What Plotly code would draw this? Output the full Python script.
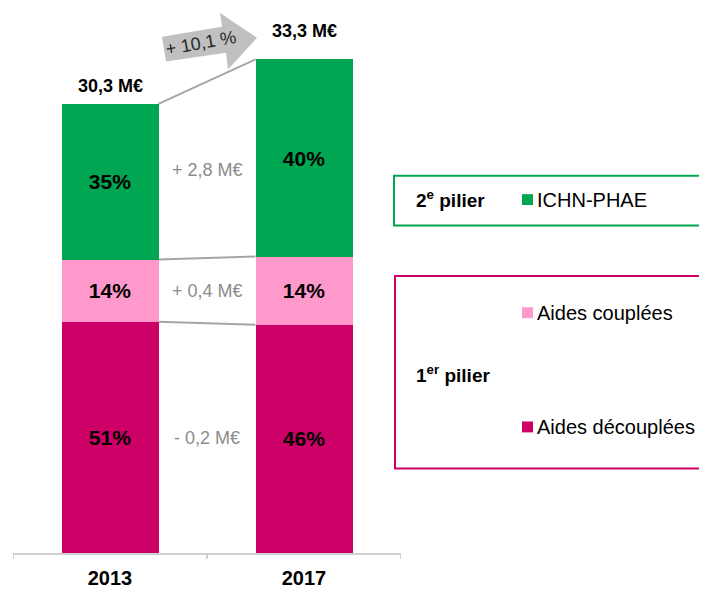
import plotly.graph_objects as go

years = ["2013", "2017"]
decouplees = [15.6, 15.4]
couplees = [4.2, 4.6]
ichn = [10.5, 13.3]
pct_decouplees = ["51%", "46%"]
pct_couplees = ["14%", "14%"]
pct_ichn = ["35%", "40%"]
totals_txt = ["30,3 M€", "33,3 M€"]
diff_txt = ["- 0,2 M€", "+ 0,4 M€", "+ 2,8 M€"]
growth_txt = "+ 10,1 %"
legend_names = ["ICHN-PHAE", "Aides couplées", "Aides découplées"]

C_GREEN = "#00A651"
C_PINK = "#FF99CC"
C_MAG = "#CC0066"
FONT = "Liberation Sans, Arial, sans-serif"

OFF = 8  # page body margin
W, H = 707 - OFF, 589 - OFF
ML, MR, MT, MB = 13 - OFF, 306, 0, 32
PW, PH = W - ML - MR, H - MT - MB
YMAX = PH / 14.93


def px(x):
    return (x - OFF - ML) / PW


def py(y):
    return (H - MB - (y - OFF)) / PH


fig = go.Figure()
for vals, txt, col, name in [
    (decouplees, pct_decouplees, C_MAG, legend_names[2]),
    (couplees, pct_couplees, C_PINK, legend_names[1]),
    (ichn, pct_ichn, C_GREEN, legend_names[0]),
]:
    fig.add_trace(go.Bar(
        x=[0, 1], y=vals, name=name, marker=dict(color=col, line=dict(width=0)),
        text=txt, textposition="inside", insidetextanchor="middle",
        textfont=dict(family=FONT, size=21, color="black", weight="bold"),
        width=0.5, showlegend=False, hoverinfo="skip",
    ))

bw = 0.5
levels = [
    [decouplees[i] for i in range(2)],
    [decouplees[i] + couplees[i] for i in range(2)],
    [decouplees[i] + couplees[i] + ichn[i] for i in range(2)],
]
shapes = []
for lv in levels:
    shapes.append(dict(type="line", xref="x", yref="y", x0=bw / 2, x1=1 - bw / 2,
                       y0=lv[0], y1=lv[1], line=dict(color="#a6a6a6", width=2), layer="below"))

annotations = []
mids = [
    [decouplees[i] / 2 for i in range(2)],
    [decouplees[i] + couplees[i] / 2 for i in range(2)],
    [decouplees[i] + couplees[i] + ichn[i] / 2 for i in range(2)],
]
for m, t in zip(mids, diff_txt):
    annotations.append(dict(x=0.5, y=(m[0] + m[1]) / 2, xref="x", yref="y", text=t,
                            xanchor="center", yanchor="middle",
                            showarrow=False, font=dict(family=FONT, size=18, color="#8c8c8c")))
total_shift = [18, 28]
for i in range(2):
    annotations.append(dict(x=i, y=levels[2][i], xref="x", yref="y", text=f"<b>{totals_txt[i]}</b>",
                            xanchor="center", yanchor="middle",
                            showarrow=False, yshift=total_shift[i],
                            font=dict(family=FONT, size=18, color="black")))

# growth arrow
arrow_pts = [(162, 37), (222, 27), (220, 13), (257, 38), (228, 70), (226, 53), (166, 62)]
path = "M " + " L ".join(f"{px(a)},{py(b)}" for a, b in arrow_pts) + " Z"
shapes.append(dict(type="path", xref="paper", yref="paper", path=path,
                   fillcolor="#c0c0c0", line=dict(width=0)))
annotations.append(dict(x=px(201), y=py(43), xref="paper", yref="paper", text=growth_txt,
                        xanchor="center", yanchor="middle",
                        showarrow=False, textangle=-10,
                        font=dict(family=FONT, size=18, color="#262626")))

# legend boxes
shapes.append(dict(type="rect", xref="paper", yref="paper", x0=px(394), x1=px(715),
                   y0=py(227), y1=py(177), line=dict(color=C_GREEN, width=2)))
shapes.append(dict(type="rect", xref="paper", yref="paper", x0=px(395), x1=px(715),
                   y0=py(472), y1=py(278), line=dict(color=C_MAG, width=2)))

annotations.append(dict(x=px(414), y=py(200), xref="paper", yref="paper",
                        xanchor="left", yanchor="middle",
                        text="<b>2<sup>e</sup> pilier</b>", showarrow=False,
                        font=dict(family=FONT, size=19, color="black")))
annotations.append(dict(x=px(414), y=py(377), xref="paper", yref="paper",
                        xanchor="left", yanchor="middle",
                        text="<b>1<sup>er</sup> pilier</b>", showarrow=False,
                        font=dict(family=FONT, size=19, color="black")))

for name, col, yc in [(legend_names[0], C_GREEN, 201), (legend_names[1], C_PINK, 315),
                      (legend_names[2], C_MAG, 430)]:
    shapes.append(dict(type="rect", xref="paper", yref="paper", x0=px(522), x1=px(533),
                       y0=py(yc + 5.5), y1=py(yc - 5.5), fillcolor=col, line=dict(width=0)))
    annotations.append(dict(x=px(535), y=py(yc), xref="paper", yref="paper",
                            xanchor="left", yanchor="middle",
                            text=name, showarrow=False,
                            font=dict(family=FONT, size=20, color="black")))

fig.update_layout(
    width=W, height=H, barmode="stack",
    margin=dict(l=ML, r=MR, t=MT, b=MB),
    plot_bgcolor="white", paper_bgcolor="white",
    shapes=shapes, annotations=annotations,
    xaxis=dict(range=[-0.5, 1.5], tickvals=[0, 1], ticktext=[f"<b>{y}</b>" for y in years],
               showline=True, linecolor="#d0d0d0", linewidth=2, showgrid=False, zeroline=False,
               ticks="", ticklabelstandoff=6,
               tickfont=dict(family=FONT, size=20, color="black"), fixedrange=True),
    yaxis=dict(range=[0, YMAX], visible=False, fixedrange=True),
)
for xb in [-0.5, 0.5, 1.5]:
    fig.add_shape(type="line", xref="x", yref="paper", x0=xb, x1=xb, y0=0, y1=-6 / PH,
                  line=dict(color="#d0d0d0", width=2))

fig.write_html("out.html")
